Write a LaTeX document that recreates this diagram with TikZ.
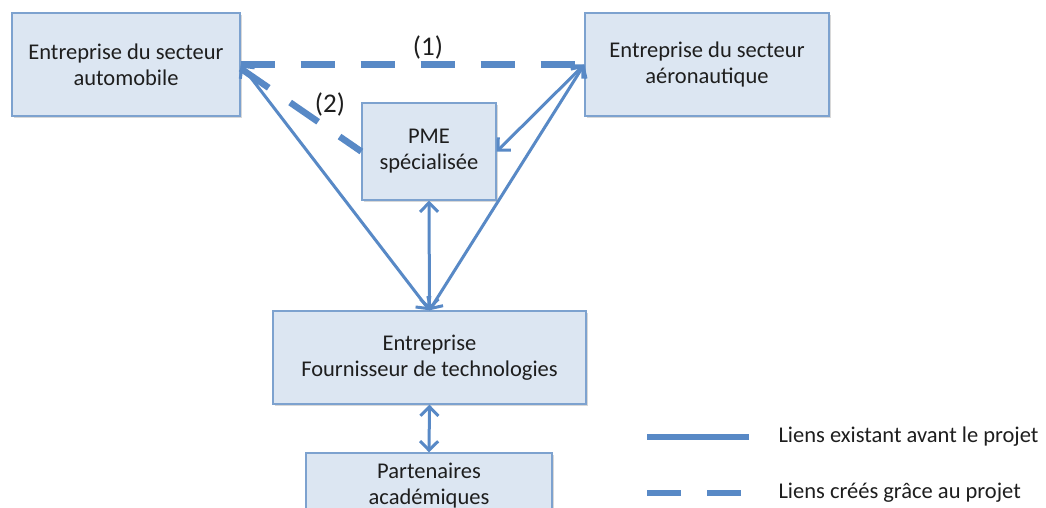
\documentclass[tikz,border=0pt]{standalone}
\usepackage{fontspec}
\setmainfont{Carlito}
\usetikzlibrary{arrows.meta,shadows}
\definecolor{lineblue}{HTML}{5889C6}
\definecolor{boxfill}{HTML}{DCE6F2}
\definecolor{boxborder}{HTML}{7DA2CF}
\definecolor{txt}{HTML}{1E1E1E}
\tikzset{
  box/.style={draw=boxborder, line width=1.4pt, fill=boxfill, align=center, text=txt,
    font=\fontsize{22.5}{26}\selectfont, inner sep=0pt,
    drop shadow={shadow xshift=1.5pt, shadow yshift=-2pt, opacity=0.25, fill=black!60}},
  link/.style={draw=lineblue, line width=3pt, {Straight Barb[length=9pt,width=18pt]}-{Straight Barb[length=9pt,width=18pt]}},
  newlink/.style={draw=lineblue, line width=6.5pt, dash pattern=on 34pt off 26pt},
  lbl/.style={text=txt, font=\fontsize{27}{30}\selectfont},
  legtxt/.style={text=txt, font=\fontsize{22.5}{26}\selectfont, anchor=west}
}
\begin{document}
\begin{tikzpicture}[x=1pt,y=-1pt]
\useasboundingbox (0,0) rectangle (1046,508);
\clip (0,0) rectangle (1046,508);
\fill[white] (0,0) rectangle (1046,508);
\node[box, minimum width=228pt, minimum height=103pt] (auto) at (126,64.5) {Entreprise du secteur\\automobile};
\node[box, minimum width=244pt, minimum height=103pt] (aero) at (707,64.5) {Entreprise du secteur\\aéronautique};
\node[box, minimum width=134pt, minimum height=97pt] (pme) at (429,151.5) {PME\\spécialisée};
\node[box, minimum width=313pt, minimum height=93pt] (tech) at (429.5,357.5) {Entreprise\\Fournisseur de technologies};
\node[box, minimum width=246pt, minimum height=66pt] (part) at (429,486) {Partenaires\\académiques};

\draw[newlink] (auto.east) -- (aero.west);
\draw[newlink] ([yshift=-4pt]auto.east) -- (pme.west);
\node[lbl] (l1) at (428,47) {(1)};
\node[lbl] (l2) at (330,104) {(2)};

\draw[link] (auto.east) -- (tech.north);
\draw[link] (aero.west) -- (tech.north);
\draw[link] (aero.west) -- (pme.east);
\draw[link] (pme.south) -- (tech.north);
\draw[link] (tech.south) -- (part.north);

\coordinate (s1) at (647,437);
\coordinate (s2) at (749,437);
\draw[draw=lineblue, line width=6.5pt] (s1) -- (s2);
\node[legtxt] (t1) at (775,437) {Liens existant avant le projet};
\coordinate (d1) at (647,493);
\coordinate (d2) at (741,493);
\draw[newlink] (d1) -- (d2);
\node[legtxt] (t2) at (775,493) {Liens créés grâce au projet};
\end{tikzpicture}
\end{document}
